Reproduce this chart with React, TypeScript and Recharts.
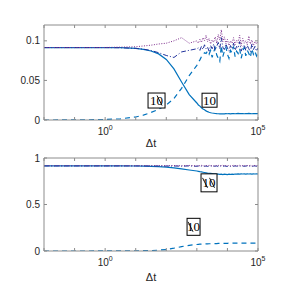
import { LineChart, Line, XAxis, YAxis, ReferenceDot } from "recharts";

// log10 of Δt for each sample
const exps = [
  -2, -1, 0, 0.5, 1, 1.25, 1.5, 1.75, 2, 2.25, 2.5, 2.75,
  3, 3.05, 3.1, 3.15, 3.2, 3.25, 3.3, 3.35, 3.4, 3.45,
  3.5, 3.55, 3.6, 3.65, 3.7, 3.75, 3.8, 3.85, 3.9, 3.95,
  4, 4.05, 4.1, 4.15, 4.2, 4.25, 4.3, 4.35, 4.4, 4.45,
  4.5, 4.55, 4.6, 4.65, 4.7, 4.75, 4.8, 4.85, 4.9, 4.95, 5,
];

const topSolid = [
  0.0915, 0.0915, 0.0915, 0.0913, 0.0905, 0.0893, 0.0872, 0.0835, 0.0765, 0.0645, 0.048, 0.032,
  0.0215, 0.019, 0.0175, 0.0155, 0.014, 0.013, 0.0115, 0.0105, 0.0098, 0.0092,
  0.0088, 0.0085, 0.0082, 0.008, 0.0079, 0.0078, 0.0079, 0.0077, 0.0078, 0.008,
  0.0079, 0.0081, 0.0078, 0.008, 0.0082, 0.0079, 0.0081, 0.0083, 0.008, 0.0082,
  0.0081, 0.0079, 0.0082, 0.008, 0.0083, 0.0081, 0.0079, 0.0082, 0.008, 0.0081, 0.008,
];
const topDashed = [
  0, 0.0001, 0.0006, 0.0015, 0.0038, 0.0062, 0.0095, 0.0135, 0.019, 0.027, 0.04, 0.056,
  0.069, 0.073, 0.076, 0.08, 0.082, 0.085, 0.084, 0.087, 0.083, 0.088,
  0.079, 0.086, 0.091, 0.082, 0.078, 0.074, 0.094, 0.08, 0.087, 0.092,
  0.083, 0.078, 0.088, 0.085, 0.093, 0.08, 0.087, 0.084, 0.09, 0.078,
  0.086, 0.092, 0.081, 0.088, 0.084, 0.079, 0.09, 0.083, 0.087, 0.081, 0.086,
];
const topDashDot = [
  0.0915, 0.0915, 0.0915, 0.0913, 0.0905, 0.0895, 0.0878, 0.085, 0.0815, 0.079, 0.086, 0.088,
  0.09, 0.091, 0.088, 0.093, 0.089, 0.095, 0.09, 0.092, 0.087, 0.094,
  0.09, 0.096, 0.088, 0.093, 0.098, 0.09, 0.104, 0.092, 0.089, 0.096,
  0.091, 0.087, 0.094, 0.09, 0.097, 0.088, 0.093, 0.091, 0.099, 0.087,
  0.092, 0.095, 0.088, 0.094, 0.09, 0.086, 0.096, 0.089, 0.093, 0.087, 0.091,
];
const topDotted = [
  0.0915, 0.0915, 0.0916, 0.092, 0.0925, 0.0935, 0.0945, 0.096, 0.097, 0.1, 0.104, 0.097,
  0.1, 0.097, 0.102, 0.098, 0.104, 0.1, 0.107, 0.099, 0.103, 0.096,
  0.101, 0.098, 0.105, 0.097, 0.108, 0.101, 0.114, 0.099, 0.105, 0.096,
  0.102, 0.094, 0.1, 0.097, 0.104, 0.095, 0.101, 0.098, 0.107, 0.094,
  0.103, 0.097, 0.1, 0.095, 0.106, 0.096, 0.101, 0.094, 0.099, 0.096, 0.1,
];

const botSolid = [
  0.915, 0.915, 0.915, 0.915, 0.914, 0.913, 0.911, 0.907, 0.901, 0.893, 0.883, 0.871,
  0.86, 0.857, 0.853, 0.85, 0.847, 0.844, 0.841, 0.838, 0.836, 0.834,
  0.832, 0.83, 0.829, 0.827, 0.826, 0.823, 0.826, 0.822, 0.827, 0.824,
  0.821, 0.826, 0.823, 0.827, 0.825, 0.828, 0.826, 0.829, 0.827, 0.83,
  0.828, 0.829, 0.827, 0.83, 0.828, 0.829, 0.827, 0.829, 0.828, 0.829, 0.828,
];
const botDashed = [
  0, 0, 0.0005, 0.001, 0.002, 0.003, 0.005, 0.009, 0.016, 0.03, 0.047, 0.061,
  0.07, 0.072, 0.073, 0.074, 0.075, 0.076, 0.077, 0.077, 0.078, 0.078,
  0.079, 0.079, 0.08, 0.08, 0.081, 0.081, 0.082, 0.082, 0.082, 0.083,
  0.083, 0.084, 0.083, 0.084, 0.084, 0.085, 0.084, 0.085, 0.084, 0.085,
  0.085, 0.084, 0.085, 0.085, 0.084, 0.085, 0.085, 0.085, 0.084, 0.085, 0.085,
];
const botDashDot = [
  0.915, 0.915, 0.915, 0.915, 0.915, 0.915, 0.914, 0.914, 0.913, 0.914, 0.912, 0.915,
  0.911, 0.914, 0.91, 0.913, 0.916, 0.911, 0.914, 0.909, 0.913, 0.916,
  0.91, 0.914, 0.911, 0.915, 0.908, 0.913, 0.916, 0.91, 0.914, 0.912,
  0.909, 0.915, 0.911, 0.914, 0.91, 0.916, 0.912, 0.909, 0.914, 0.911,
  0.915, 0.91, 0.913, 0.916, 0.911, 0.914, 0.909, 0.913, 0.915, 0.911, 0.914,
];
const botDotted = [
  0.916, 0.916, 0.916, 0.916, 0.916, 0.917, 0.917, 0.918, 0.917, 0.919, 0.916, 0.92,
  0.915, 0.919, 0.916, 0.921, 0.917, 0.914, 0.92, 0.916, 0.922, 0.915,
  0.919, 0.913, 0.92, 0.917, 0.921, 0.914, 0.918, 0.922, 0.915, 0.919,
  0.916, 0.92, 0.914, 0.918, 0.921, 0.915, 0.919, 0.916, 0.922, 0.914,
  0.918, 0.92, 0.915, 0.919, 0.917, 0.921, 0.914, 0.918, 0.92, 0.916, 0.919,
];

const xTicks = [0.01, 0.1, 1, 10, 100, 1000, 10000, 100000];
const topYTicks = [0, 0.05, 0.1];
const botYTicks = [0, 0.5, 1];

const AX = "#8c8c8c";
const TXT = "#262626";
const BLUE = "#0072BD";
const NAVY = "#22339c";
const PURPLE = "#7E2F8E";
const SANS = "'Liberation Sans', Arial, sans-serif";
const SERIF = "'Liberation Serif', 'Times New Roman', serif";

const rows = (a: number[], b: number[], c: number[], d: number[]) =>
  exps.map((e, i) => ({ dt: 10 ** e, solid: a[i], dashed: b[i], dashdot: c[i], dotted: d[i] }));

const topData = rows(topSolid, topDashed, topDashDot, topDotted);
const botData = rows(botSolid, botDashed, botDashDot, botDotted);

const BottomTick = (props: any) => {
  const { x, y, payload } = props;
  const ax = y - 5;
  const sup = payload.value === 1 ? "0" : payload.value === 100000 ? "5" : null;
  return (
    <g>
      <line x1={x} x2={x} y1={ax} y2={ax - 3} stroke={AX} />
      {sup && (
        <text x={x} y={ax + 15} textAnchor="middle" fontSize={10} fontFamily={SANS} fill={TXT}>
          10
          <tspan dy={-5} fontSize={7}>{sup}</tspan>
        </text>
      )}
    </g>
  );
};

const TopTick = (props: any) => {
  const { x, y } = props;
  const ax = y + 5;
  return <line x1={x} x2={x} y1={ax} y2={ax + 3} stroke={AX} />;
};

const LeftTick = (props: any) => {
  const { x, y, payload } = props;
  const ax = x + 5;
  return (
    <g>
      <line x1={ax} x2={ax + 3} y1={y} y2={y} stroke={AX} />
      <text x={ax - 4} y={y + 3.5} textAnchor="end" fontSize={10} fontFamily={SANS} fill={TXT}>
        {String(payload.value)}
      </text>
    </g>
  );
};

const RightTick = (props: any) => {
  const { x, y } = props;
  const ax = x - 5;
  return <line x1={ax} x2={ax - 3} y1={y} y2={y} stroke={AX} />;
};

// boxed "10" label; the stray backslashes over the glyphs are drawn as strokes
const TagBox = (props: any) => {
  const { cx, cy, w, h, slashes } = props;
  return (
    <g>
      <rect x={cx - w / 2} y={cy - h / 2} width={w} height={h} fill="#fff" stroke="#000" strokeWidth={1} />
      <text x={cx} y={cy + 4.5} textAnchor="middle" fontSize={13} fontFamily={SERIF} fill="#000">
        10
      </text>
      {slashes.map((dx: number, i: number) => (
        <line key={i} x1={cx + dx - 2.5} y1={cy - 5} x2={cx + dx + 2.5} y2={cy + 5} stroke="#000" strokeWidth={0.9} />
      ))}
    </g>
  );
};

const Title = (baseline: number) => (props: any) => {
  const { viewBox } = props;
  return (
    <text x={viewBox.x + viewBox.width / 2} y={baseline} textAnchor="middle" fontSize={11} fontFamily={SANS} fill={TXT}>
      Δt
    </text>
  );
};

function Panel(props: {
  data: any[];
  yMax: number;
  yTicks: number[];
  topH: number;
  botH: number;
  titleY: number;
  tags: { x: number; y: number; w: number; h: number; slashes: number[] }[];
}) {
  const { data, yMax, yTicks, topH, botH, titleY, tags } = props;
  return (
    <LineChart width={300} height={150} data={data} margin={{ top: 0, right: 0, bottom: 0, left: 4 }}>
      <XAxis
        xAxisId="b"
        dataKey="dt"
        type="number"
        scale="log"
        domain={[0.01, 100000]}
        ticks={xTicks}
        interval={0}
        allowDataOverflow
        height={botH}
        axisLine={{ stroke: AX }}
        tickLine={false}
        tickSize={3}
        tickMargin={2}
        tick={<BottomTick />}
        label={Title(titleY)}
      />
      <XAxis
        xAxisId="t"
        orientation="top"
        dataKey="dt"
        type="number"
        scale="log"
        domain={[0.01, 100000]}
        ticks={xTicks}
        interval={0}
        allowDataOverflow
        height={topH}
        axisLine={{ stroke: AX }}
        tickLine={false}
        tickSize={3}
        tickMargin={2}
        tick={<TopTick />}
      />
      <YAxis
        yAxisId="l"
        type="number"
        domain={[0, yMax]}
        ticks={yTicks}
        interval={0}
        allowDataOverflow
        width={40}
        axisLine={{ stroke: AX }}
        tickLine={false}
        tickSize={3}
        tickMargin={2}
        tick={<LeftTick />}
      />
      <YAxis
        yAxisId="r"
        orientation="right"
        type="number"
        domain={[0, yMax]}
        ticks={yTicks}
        interval={0}
        allowDataOverflow
        width={42}
        axisLine={{ stroke: AX }}
        tickLine={false}
        tickSize={3}
        tickMargin={2}
        tick={<RightTick />}
      />
      <Line xAxisId="b" yAxisId="l" dataKey="solid" stroke={BLUE} strokeWidth={1.2} dot={false} isAnimationActive={false} />
      <Line xAxisId="b" yAxisId="l" dataKey="dashed" stroke={BLUE} strokeWidth={1.2} strokeDasharray="5 4" dot={false} isAnimationActive={false} />
      <Line xAxisId="b" yAxisId="l" dataKey="dashdot" stroke={NAVY} strokeWidth={1} strokeDasharray="5 2 1 2" dot={false} isAnimationActive={false} />
      <Line xAxisId="b" yAxisId="l" dataKey="dotted" stroke={PURPLE} strokeWidth={1} strokeDasharray="1 1.5" dot={false} isAnimationActive={false} />
      {tags.map((t, i) => (
        <ReferenceDot
          key={i}
          xAxisId="b"
          yAxisId="l"
          x={t.x}
          y={t.y}
          shape={(p: any) => <TagBox {...p} w={t.w} h={t.h} slashes={t.slashes} />}
        />
      ))}
    </LineChart>
  );
}

export default function App() {
  return (
    <div style={{ position: "absolute", left: 0, top: 0, width: 300, height: 300, background: "#fff" }}>
      <Panel
        data={topData}
        yMax={0.12}
        yTicks={topYTicks}
        topH={25}
        botH={30}
        titleY={147}
        tags={[
          { x: 48, y: 0.0246, w: 17, h: 15, slashes: [3] },
          { x: 2600, y: 0.025, w: 15, h: 14, slashes: [] },
        ]}
      />
      <Panel
        data={botData}
        yMax={1}
        yTicks={botYTicks}
        topH={8}
        botH={49}
        titleY={131}
        tags={[
          { x: 2500, y: 0.733, w: 16, h: 18, slashes: [-4, 3] },
          { x: 780, y: 0.26, w: 13, h: 17, slashes: [-3] },
        ]}
      />
    </div>
  );
}
